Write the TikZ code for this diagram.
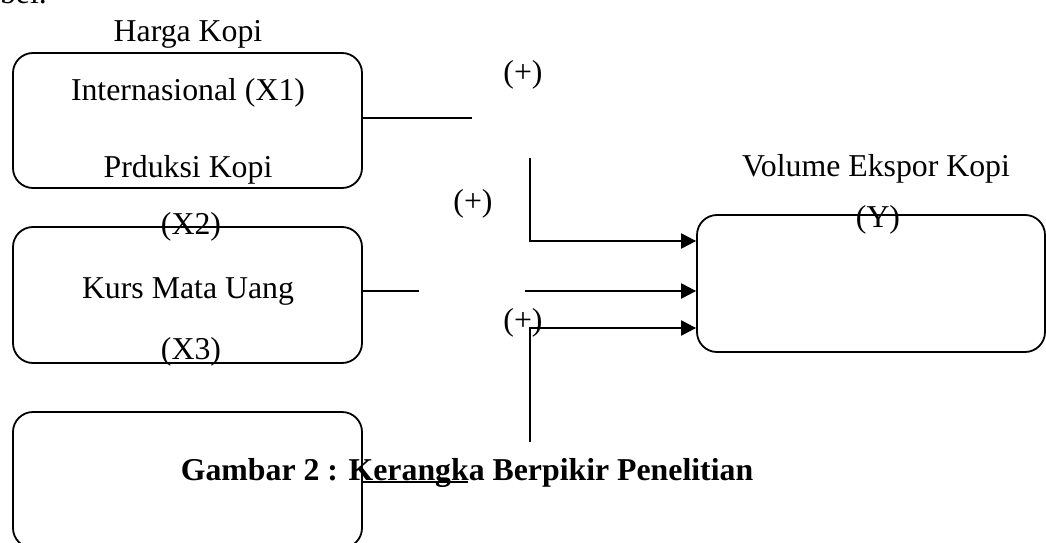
\documentclass[tikz,border=0pt]{standalone}
\usepackage{fontspec}
\setmainfont{Liberation Serif}
\usetikzlibrary{arrows.meta,calc}
\begin{document}
\begin{tikzpicture}[x=1pt,y=-1pt,
  font=\fontsize{31.8}{38}\selectfont,
  varbox/.style={draw, line width=1.8pt, rounded corners=20pt, inner sep=0pt,
    minimum width=349pt, minimum height=136pt},
  label/.style={anchor=base, inner sep=0pt},
  link/.style={line width=2.2pt},
  arrow/.style={line width=2.2pt, -{Triangle[length=15pt,width=15pt]}}]
\useasboundingbox (0,0) rectangle (1046,543);
\clip (0,0) rectangle (1046,543);

% variable boxes
\node[varbox, minimum height=135pt] (b1) at (187.5,120.5) {};
\node[varbox] (b2) at (187.5,295) {};
\node[varbox] (b3) at (187.5,480) {};
\node[varbox, minimum width=348pt, minimum height=137pt] (yb) at (871,283.5) {};

% texts
\node[anchor=base east, inner sep=0pt] (prev) at (47,4) {tabel.};
\node[label] (t1) at (188,42) {Harga Kopi};
\node[label] (t2) at (188,100) {Internasional (X1)};
\node[label] (t3) at (188,177) {Prduksi Kopi};
\node[label] (t4) at (191,234) {(X2)};
\node[label] (t5) at (188,298) {Kurs Mata Uang};
\node[label] (t6) at (191,359) {(X3)};
\node[label] (t7) at (876,176) {Volume Ekspor Kopi};
\node[label] (t8) at (878,227) {(Y)};
\node[label] (p1) at (523,82) {(+)};
\node[label] (p2) at (473,211) {(+)};
\node[label] (p3) at (523,330) {(+)};
\node[label, font=\fontsize{31.8}{38}\selectfont\bfseries] (cap) at (467,480)
  {Gambar 2 : Kerangka Berpikir Penelitian};

% short lines leaving the boxes
\coordinate (e1) at (472,118);
\coordinate (e2) at (419,291);
\coordinate (e3) at (468,482);
\draw[link] (e1 -| b1.east) -- (e1);
\draw[link] (e2 -| b2.east) -- (e2);
\draw[link] (e3 -| b3.east) -- (e3);

% arrows into the dependent variable
\coordinate (s1) at (530,158);
\coordinate (r1) at (0,241);
\coordinate (s2) at (525,291);
\coordinate (s3) at (530,442);
\coordinate (r3) at (0,328);
\draw[arrow] (s1) |- (yb.west |- r1);
\draw[arrow] (s2) -- (s2 -| yb.west);
\draw[arrow] (s3) |- (yb.west |- r3);
\end{tikzpicture}
\end{document}
